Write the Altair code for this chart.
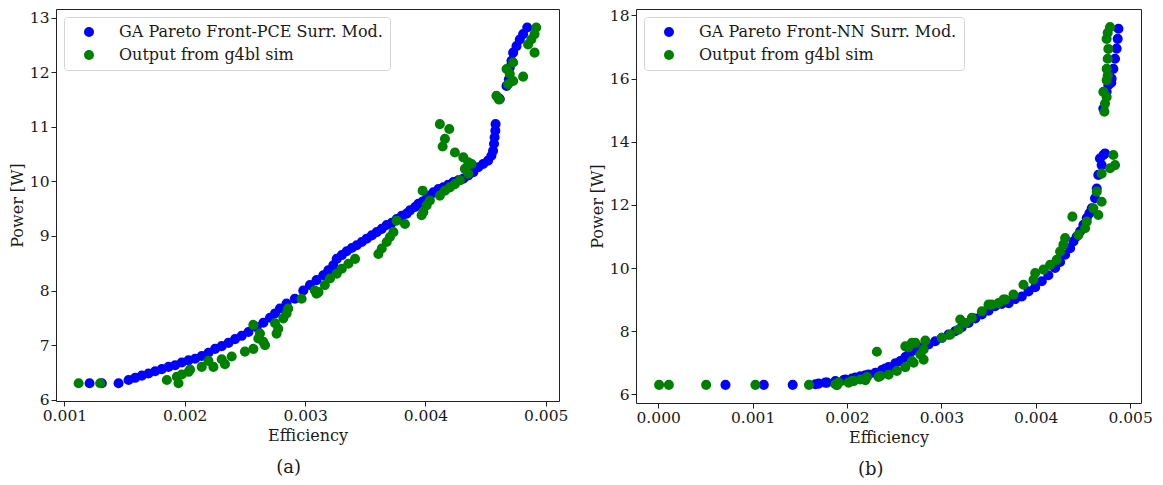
import altair as alt
import pandas as pd

# ---- Panel (a): PCE surrogate model ----
pce_front_eff = [
    0.001209, 0.001311, 0.00145, 0.001533, 0.001588, 0.001643, 0.001699, 0.001754,
    0.001809, 0.001865, 0.00192, 0.001975, 0.002031, 0.002086, 0.002141, 0.002197,
    0.002252, 0.002307, 0.002363, 0.002418, 0.002473, 0.002529, 0.002598, 0.002653,
    0.002708, 0.00275, 0.002791, 0.002846, 0.002915, 0.002985, 0.00304, 0.003095,
    0.003151, 0.003193, 0.003234, 0.003263, 0.003305, 0.003346, 0.003388, 0.003429,
    0.003471, 0.003512, 0.003554, 0.003595, 0.003637, 0.003678, 0.00372, 0.003761,
    0.003803, 0.003844, 0.003872, 0.003914, 0.003941, 0.003977, 0.00401, 0.004038,
    0.004066, 0.004108, 0.004149, 0.00419, 0.004232, 0.004273, 0.004315, 0.004356,
    0.004398, 0.004439, 0.00448, 0.00452, 0.004548, 0.004562, 0.00457, 0.004575,
    0.004581, 0.004583, 0.004605, 0.004618, 0.004674, 0.004693, 0.004701, 0.004715,
    0.004729, 0.004757, 0.004784, 0.004812, 0.004846,
]
pce_front_pow = [
    6.30, 6.30, 6.30, 6.36, 6.40, 6.44, 6.48, 6.52,
    6.56, 6.60, 6.63, 6.68, 6.72, 6.75, 6.80, 6.86,
    6.93, 6.98, 7.04, 7.11, 7.17, 7.24, 7.33, 7.41,
    7.50, 7.58, 7.67, 7.76, 7.85, 8.00, 8.10, 8.19,
    8.28, 8.37, 8.46, 8.58, 8.65, 8.72, 8.78, 8.83,
    8.89, 8.95, 9.01, 9.07, 9.13, 9.20, 9.24, 9.31,
    9.37, 9.41, 9.47, 9.53, 9.59, 9.63, 9.68, 9.74,
    9.80, 9.86, 9.89, 9.94, 9.99, 10.02, 10.05, 10.11,
    10.17, 10.26, 10.32, 10.38, 10.47, 10.56, 10.69, 10.81,
    10.93, 11.05, 11.53, 11.51, 11.75, 11.87, 12.09, 12.21,
    12.36, 12.48, 12.60, 12.70, 12.82,
]
pce_sim_eff = [
    0.001118, 0.001297, 0.001851, 0.001934, 0.001948, 0.001975, 0.002031, 0.002044,
    0.002141, 0.002197, 0.002238, 0.002307, 0.002334, 0.00239, 0.0025, 0.00257,
    0.00257, 0.002611, 0.002625, 0.002653, 0.002667, 0.00275, 0.002763, 0.002777,
    0.002819, 0.002846, 0.00286, 0.002971, 0.003081, 0.003095, 0.003111, 0.003164,
    0.003207, 0.003263, 0.003305, 0.00336, 0.003415, 0.003609, 0.003637, 0.003678,
    0.003705, 0.003734, 0.003761, 0.00383, 0.003968, 0.003983, 0.00401, 0.004037,
    0.003977, 0.00412, 0.004162, 0.004203, 0.004245, 0.004286, 0.004356, 0.004328,
    0.004383, 0.004356, 0.004315, 0.004245, 0.004143, 0.004162, 0.004198, 0.00412,
    0.00459, 0.004612, 0.004687, 0.004729, 0.004812, 0.004701, 0.004674, 0.004729,
    0.004907, 0.004853, 0.00488, 0.004907, 0.004921,
]
pce_sim_pow = [
    6.30, 6.30, 6.36, 6.42, 6.30, 6.46, 6.51, 6.55,
    6.60, 6.71, 6.60, 6.74, 6.65, 6.79, 6.88, 6.93,
    7.37, 7.12, 7.21, 7.06, 7.00, 7.40, 7.21, 7.30,
    7.49, 7.58, 7.67, 7.85, 8.00, 7.94, 7.97, 8.10,
    8.22, 8.31, 8.40, 8.49, 8.58, 8.67, 8.77, 8.89,
    8.98, 9.07, 9.28, 9.22, 9.38, 9.44, 9.56, 9.65,
    9.83, 9.74, 9.83, 9.89, 9.95, 10.02, 10.14, 10.23,
    10.32, 10.35, 10.44, 10.53, 10.64, 10.78, 10.96, 11.05,
    11.57, 11.50, 11.78, 11.84, 11.92, 11.97, 12.06, 12.18,
    12.36, 12.51, 12.60, 12.70, 12.82,
]

# ---- Panel (b): NN surrogate model ----
nn_front_eff = [
    0.000713, 0.001119, 0.001425, 0.001666, 0.0017, 0.001771, 0.001788, 0.001877,
    0.001965, 0.001983, 0.002053, 0.002089, 0.002142, 0.002195, 0.00223, 0.0023,
    0.00237, 0.002406, 0.002441, 0.002512, 0.002565, 0.002618, 0.002653, 0.002688,
    0.002724, 0.002794, 0.002865, 0.002935, 0.003005, 0.003076, 0.003147, 0.003217,
    0.003288, 0.003359, 0.003429, 0.0035, 0.00357, 0.00364, 0.003693, 0.003714,
    0.003782, 0.003852, 0.003923, 0.003994, 0.004064, 0.004134, 0.004205, 0.004258,
    0.004311, 0.004364, 0.004399, 0.004434, 0.00447, 0.004505, 0.00454, 0.004568,
    0.004593, 0.004628, 0.004646, 0.004663, 0.00468, 0.004698, 0.004716, 0.004734,
    0.004716, 0.004751, 0.004769, 0.0048, 0.004804, 0.004822, 0.00484, 0.004857,
    0.004868, 0.004876,
]
nn_front_pow = [
    6.30, 6.30, 6.30, 6.32, 6.34, 6.37, 6.37, 6.42,
    6.45, 6.47, 6.50, 6.53, 6.57, 6.60, 6.63, 6.68,
    6.77, 6.82, 6.86, 6.98, 7.05, 7.18, 7.26, 7.37,
    7.42, 7.49, 7.58, 7.68, 7.79, 7.89, 8.00, 8.13,
    8.26, 8.40, 8.53, 8.65, 8.79, 8.86, 8.95, 8.89,
    9.02, 9.10, 9.26, 9.39, 9.58, 9.77, 10.00, 10.19,
    10.42, 10.63, 10.84, 11.00, 11.16, 11.37, 11.58, 11.73,
    11.89, 12.21, 12.52, 12.95, 13.47, 13.26, 13.58, 13.63,
    15.05, 15.58, 15.79, 15.87, 16.00, 16.31, 16.63, 16.95,
    17.26, 17.58,
]
nn_sim_eff = [
    0.00001, 0.000113, 0.000508, 0.00103, 0.001598, 0.001877, 0.001894, 0.001912,
    0.002018, 0.002053, 0.002071, 0.002142, 0.002195, 0.002212, 0.002317, 0.002335,
    0.002353, 0.002441, 0.002529, 0.002618, 0.002618, 0.002653, 0.002688, 0.002688,
    0.002706, 0.002724, 0.002777, 0.002812, 0.002812, 0.00283, 0.003005, 0.003094,
    0.003182, 0.0032, 0.003253, 0.003323, 0.003429, 0.0035, 0.003534, 0.003605,
    0.003658, 0.003676, 0.003764, 0.00387, 0.003976, 0.003994, 0.004082, 0.004152,
    0.004222, 0.004258, 0.004293, 0.004311, 0.004388, 0.004452, 0.004523, 0.00454,
    0.00461, 0.004663, 0.004646, 0.004698, 0.004698, 0.004787, 0.00484, 0.004822,
    0.004727, 0.004734, 0.004751, 0.004716, 0.004751, 0.004751, 0.004762, 0.004769,
    0.004762, 0.004751, 0.004762, 0.004787,
]
nn_sim_pow = [
    6.30, 6.30, 6.30, 6.30, 6.30, 6.32, 6.29, 6.37,
    6.37, 6.42, 6.42, 6.47, 6.45, 6.55, 7.35, 6.55,
    6.58, 6.62, 6.74, 6.86, 7.52, 7.49, 7.05, 7.63,
    7.00, 7.63, 7.26, 7.10, 7.42, 7.70, 7.79, 7.89,
    8.05, 8.37, 8.26, 8.42, 8.63, 8.84, 8.84, 8.89,
    9.00, 9.00, 9.16, 9.47, 9.63, 9.84, 9.95, 10.10,
    10.26, 10.52, 10.74, 10.95, 11.63, 11.05, 11.26, 11.47,
    11.89, 11.68, 12.42, 12.10, 12.99, 13.16, 13.26, 13.58,
    14.95, 15.21, 15.42, 15.58, 15.95, 16.31, 16.63, 16.94,
    16.10, 17.26, 17.45, 17.63,
]

PCE_LABEL = "GA Pareto Front-PCE Surr. Mod."
NN_LABEL = "GA Pareto Front-NN Surr. Mod."
SIM_LABEL = "Output from g4bl sim"

SERIF = "DejaVu Serif"


def frame(front_eff, front_pow, front_label, sim_eff, sim_pow):
    a = pd.DataFrame({"eff": front_eff, "power": front_pow, "series": front_label})
    b = pd.DataFrame({"eff": sim_eff, "power": sim_pow, "series": SIM_LABEL})
    return pd.concat([a, b], ignore_index=True)


def panel(df, front_label, xdom, ydom, xticks, yticks, caption, w, h):
    return (
        alt.Chart(df)
        .mark_circle(size=102, opacity=1)
        .encode(
            x=alt.X(
                "eff:Q",
                scale=alt.Scale(domain=xdom, nice=False, zero=False),
                axis=alt.Axis(values=xticks, format=".3f", title="Efficiency"),
            ),
            y=alt.Y(
                "power:Q",
                scale=alt.Scale(domain=ydom, nice=False, zero=False),
                axis=alt.Axis(values=yticks, format="d", title="Power [W]"),
            ),
            color=alt.Color(
                "series:N",
                scale=alt.Scale(domain=[front_label, SIM_LABEL], range=["#0000ff", "#008000"]),
                legend=alt.Legend(
                    title=None,
                    orient="none",
                    legendX=8,
                    legendY=8,
                    padding=7,
                    symbolType="circle",
                    symbolSize=100,
                    symbolOffset=10,
                    labelOffset=22,
                    rowPadding=7,
                    labelFont=SERIF,
                    labelFontSize=16,
                    labelColor="#1a1a1a",
                    labelLimit=400,
                    strokeColor="#d4d4d4",
                    fillColor="rgba(255,255,255,0.8)",
                    cornerRadius=3,
                ),
            ),
        )
        .properties(
            width=w,
            height=h,
            title=alt.TitleParams(
                caption,
                orient="bottom",
                anchor="middle",
                frame="bounds",
                font=SERIF,
                fontSize=18,
                fontWeight="normal",
                color="#1a1a1a",
                offset=15,
            ),
        )
    )


left = panel(
    frame(pce_front_eff, pce_front_pow, PCE_LABEL, pce_sim_eff, pce_sim_pow),
    PCE_LABEL,
    [0.00093, 0.00511],
    [5.975, 13.16],
    [0.001, 0.002, 0.003, 0.004, 0.005],
    [6, 7, 8, 9, 10, 11, 12, 13],
    "(a)",
    503,
    392,
)
right = panel(
    frame(nn_front_eff, nn_front_pow, NN_LABEL, nn_sim_eff, nn_sim_pow),
    NN_LABEL,
    [-0.000235, 0.005115],
    [5.725, 18.205],
    [0.0, 0.001, 0.002, 0.003, 0.004, 0.005],
    [6, 8, 10, 12, 14, 16, 18],
    "(b)",
    505,
    394,
)

chart = (
    alt.hconcat(left, right, spacing=19)
    .resolve_scale(color="independent")
    .resolve_legend(color="independent")
    .properties(padding={"left": 8, "top": 7, "right": 5, "bottom": 5}, background="white")
    .configure_view(stroke="#222222", strokeWidth=1)
    .configure_axis(
        labelFont=SERIF,
        labelFontSize=15.5,
        labelColor="#1a1a1a",
        titleFont=SERIF,
        titleFontSize=16,
        titleFontWeight="normal",
        titleColor="#1a1a1a",
        grid=False,
        domain=False,
        tickColor="#222222",
        tickSize=5,
        labelPadding=2,
        titlePadding=4,
    )
)

chart.save("out.html", embed_options={"renderer": "svg", "actions": False})
